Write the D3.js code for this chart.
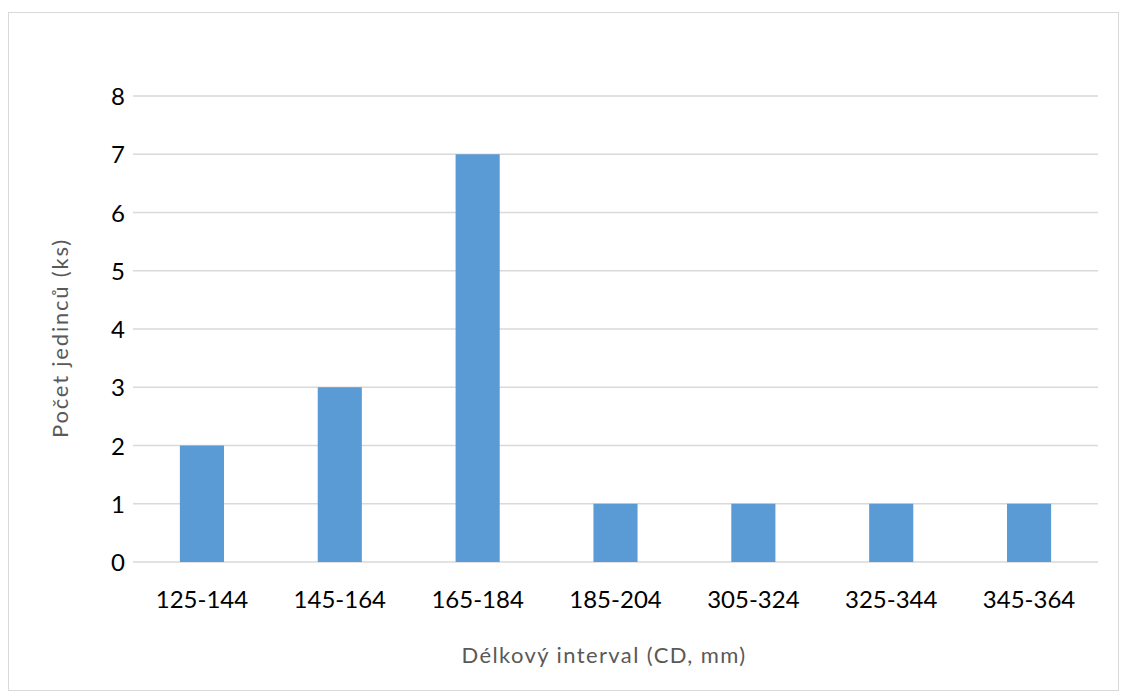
<!DOCTYPE html>
<html>
<head>
<meta charset="utf-8">
<script src="https://cdn.jsdelivr.net/npm/d3@7"></script>
<style>
  html, body { margin: 0; padding: 0; background: #fff; }
  svg { display: block; font-family: Lato, "Open Sans", sans-serif; }
</style>
</head>
<body>
<svg id="chart" width="1128" height="700"></svg>
<script>
// Length classes (mm) and counts of individuals per class
const categories = ["125-144", "145-164", "165-184", "185-204", "305-324", "325-344", "345-364"];
const counts = [2, 3, 7, 1, 1, 1, 1];
const yTicks = [0, 1, 2, 3, 4, 5, 6, 7, 8];
const xTitle = "Délkový interval (CD, mm)";
const yTitle = "Počet jedinců (ks)";

const svg = d3.select("#chart");
const plot = { left: 133, right: 1098, top: 96, bottom: 562 };

// outer chart frame
svg.append("rect")
  .attr("x", 8.5).attr("y", 12.5)
  .attr("width", 1110).attr("height", 678)
  .attr("fill", "#fff").attr("stroke", "#d9d9d9").attr("stroke-width", 1);

const x = d3.scaleBand()
  .domain(categories)
  .range([plot.left, plot.right])
  .paddingInner(0.68).paddingOuter(0.34);

const y = d3.scaleLinear()
  .domain([0, 8])
  .range([plot.bottom, plot.top]);

// horizontal gridlines
svg.append("g")
  .selectAll("line")
  .data(yTicks)
  .join("line")
  .attr("x1", plot.left).attr("x2", plot.right)
  .attr("y1", d => y(d)).attr("y2", d => y(d))
  .attr("stroke", "#d9d9d9").attr("stroke-width", 1.5);

// bars
svg.append("g")
  .selectAll("rect")
  .data(categories.map((c, i) => ({ c, v: counts[i] })))
  .join("rect")
  .attr("x", d => x(d.c))
  .attr("width", x.bandwidth())
  .attr("y", d => y(d.v))
  .attr("height", d => y(0) - y(d.v))
  .attr("fill", "#5b9bd5");

// y axis labels
const yAxis = svg.append("g")
  .attr("transform", `translate(${plot.left - 8},0)`)
  .call(d3.axisLeft(y).tickValues(yTicks).tickFormat(d3.format("d")).tickSize(0).tickPadding(0));
yAxis.select(".domain").remove();
yAxis.selectAll("text")
  .attr("font-size", 24).attr("fill", "#000")
  .attr("dy", "0.36em")
  .style("font-family", "Lato, 'Open Sans', sans-serif");

// x axis labels
const xAxis = svg.append("g")
  .attr("transform", `translate(0,${plot.bottom})`)
  .call(d3.axisBottom(x).tickSize(0).tickPadding(29));
xAxis.select(".domain").remove();
xAxis.selectAll("text")
  .attr("font-size", 24).attr("fill", "#000")
  .style("font-family", "Lato, 'Open Sans', sans-serif");

// axis titles
svg.append("text")
  .attr("x", 604)
  .attr("y", 663)
  .attr("text-anchor", "middle")
  .attr("font-size", 22)
  .attr("letter-spacing", 1.4)
  .attr("fill", "#595959")
  .text(xTitle);

svg.append("text")
  .attr("transform", `translate(68,338) rotate(-90)`)
  .attr("text-anchor", "middle")
  .attr("font-size", 22)
  .attr("letter-spacing", 1.8)
  .attr("fill", "#595959")
  .text(yTitle);
</script>
</body>
</html>
